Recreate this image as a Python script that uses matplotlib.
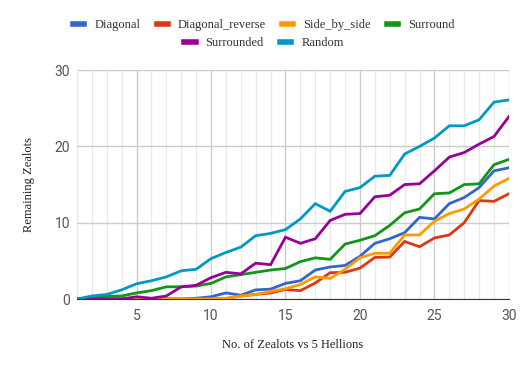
import matplotlib
matplotlib.use('Agg')
import matplotlib.pyplot as plt
from matplotlib.lines import Line2D
from matplotlib.ticker import MultipleLocator

# number of zealots (x) vs remaining zealots per formation
zealots = list(range(1, 31))
diagonal = [0, 0, 0, 0, 0.05, 0, 0, 0, 0.1, 0.3, 0.8, 0.5, 1.2, 1.3, 2.05,
            2.4, 3.8, 4.2, 4.4, 5.6, 7.3, 7.9, 8.7, 10.7, 10.5, 12.5, 13.3, 14.6, 16.8, 17.2]
diagonal_reverse = [0, 0, 0, 0, 0, 0, 0, 0, 0, 0, 0.05, 0.4, 0.6, 0.8, 1.25,
                    1.1, 2.1, 3.45, 3.5, 4.05, 5.45, 5.5, 7.55, 6.85, 8.0, 8.4, 10.0, 12.9, 12.8, 13.8]
side_by_side = [0, 0, 0, 0, 0, 0, 0, 0, 0, 0, 0.1, 0.4, 0.6, 1.0, 1.35,
                1.9, 2.9, 2.7, 3.9, 5.4, 6.0, 6.0, 8.4, 8.4, 10.2, 11.2, 11.8, 13.1, 14.8, 15.8]
surround = [0, 0.1, 0.35, 0.4, 0.8, 1.1, 1.6, 1.6, 1.7, 2.05, 2.9, 3.2, 3.5, 3.8, 4.0,
            4.9, 5.4, 5.2, 7.2, 7.7, 8.3, 9.65, 11.3, 11.8, 13.8, 13.9, 15.0, 15.1, 17.6, 18.3]
surrounded = [0, 0, 0, 0, 0.3, 0.1, 0.4, 1.6, 1.8, 2.8, 3.5, 3.3, 4.7, 4.5, 8.1,
              7.3, 7.9, 10.3, 11.1, 11.2, 13.4, 13.6, 15.0, 15.1, 16.8, 18.6, 19.2, 20.3, 21.3, 23.9]
random_ = [0, 0.4, 0.6, 1.2, 2.0, 2.4, 2.9, 3.7, 3.9, 5.3, 6.1, 6.8, 8.3, 8.6, 9.1,
           10.5, 12.5, 11.5, 14.1, 14.6, 16.1, 16.2, 19.0, 20.0, 21.1, 22.7, 22.7, 23.5, 25.8, 26.1]

names = ['Diagonal', 'Diagonal_reverse', 'Side_by_side', 'Surround', 'Surrounded', 'Random']
series = [diagonal, diagonal_reverse, side_by_side, surround, surrounded, random_]
colors = ['#3366cc', '#dc3912', '#ff9900', '#109618', '#990099', '#0099c6']

serif = ['Liberation Serif', 'DejaVu Serif']
sans = ['Roboto', 'DejaVu Sans']

fig = plt.figure(figsize=(5.28, 3.71), dpi=100)
ax = fig.add_axes([0.1458, 0.194, 0.818, 0.617])

for vals, name, c in zip(series, names, colors):
    ax.plot(zealots, vals, color=c, lw=2, label=name, zorder=3, solid_joinstyle='miter')

ax.set_xlim(1, 30)
ax.set_ylim(0, 30)
ax.xaxis.set_major_locator(MultipleLocator(5))
ax.xaxis.set_minor_locator(MultipleLocator(1))
ax.yaxis.set_major_locator(MultipleLocator(10))
ax.grid(True, which='major', color='#cccccc', lw=1)
ax.grid(True, which='minor', axis='x', color='#ebebeb', lw=1)
for s in ['top', 'left', 'right']:
    ax.spines[s].set_visible(False)
ax.spines['bottom'].set_color('#333333')
ax.tick_params(which='both', length=0, labelsize=10, labelcolor='#555555')
ax.tick_params(axis='y', pad=5)
ax.tick_params(axis='x', pad=7)
for lab in ax.get_xticklabels() + ax.get_yticklabels():
    lab.set_family(sans)

ax.set_xlabel('No. of Zealots vs 5 Hellions', family=serif, fontsize=9, color='#222222', labelpad=12)
ax.set_ylabel('Remaining Zealots', family=serif, fontsize=9, color='#222222', labelpad=14)

handles = [Line2D([], [], color=c, lw=4) for c in colors]
leg_kw = dict(frameon=False, handlelength=0.9, handletextpad=0.8, columnspacing=1.3,
              prop={'family': serif, 'size': 9}, labelcolor='#333333')
fig.legend(handles[:4], names[:4], loc='center', bbox_to_anchor=(0.5, 0.932), ncol=4, **leg_kw)
fig.legend(handles[4:], names[4:], loc='center', bbox_to_anchor=(0.5, 0.884), ncol=2, **leg_kw)

fig.savefig('out.png', dpi=100)
